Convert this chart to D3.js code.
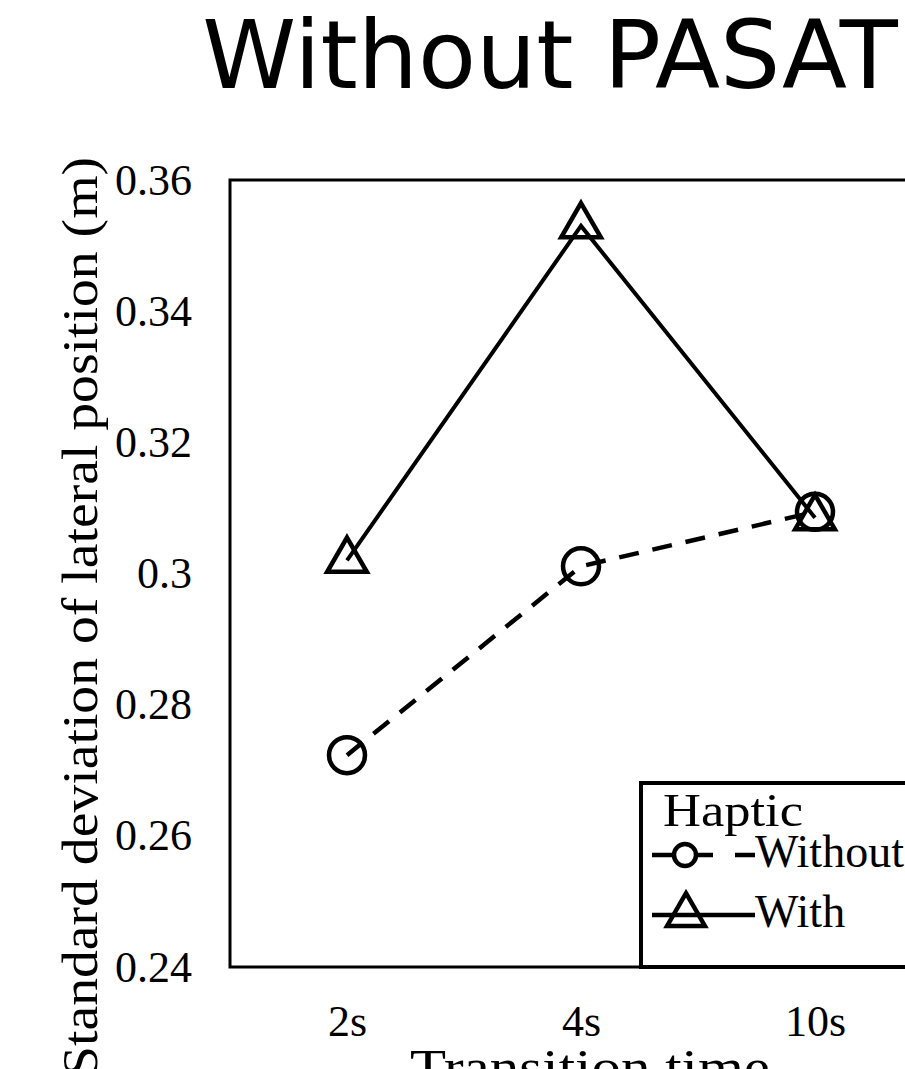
<!DOCTYPE html>
<html>
<head>
<meta charset="utf-8">
<script src="https://cdn.jsdelivr.net/npm/d3@7"></script>
<style>
  body { margin: 0; background: #fff; }
  svg { display: block; }
</style>
</head>
<body>
<div id="chart"></div>
<script>
var width = 905;
var height = 1069;

// data
const categories = ["2s", "4s", "10s"];
const withHaptic = [0.302, 0.353, 0.3085];
const withoutHaptic = [0.2723, 0.3011, 0.3094];
const yTicks = [0.24, 0.26, 0.28, 0.3, 0.32, 0.34, 0.36];
const seriesNames = ["Without", "With"];

var margin = { top: 180, left: 230, bottom: 967, right: 932 };
var serif = "'Liberation Serif', 'DejaVu Serif', serif";

var svg = d3.select("#chart")
  .append("svg")
  .attr("width", width)
  .attr("height", height);

var x = d3.scalePoint()
  .domain(categories)
  .range([margin.left, margin.right])
  .padding(0.5);

var y = d3.scaleLinear()
  .domain([0.24, 0.36])
  .range([margin.bottom, margin.top]);

// title
svg.append("text")
  .attr("x", 550)
  .attr("y", 88)
  .attr("text-anchor", "middle")
  .attr("font-family", "'DejaVu Sans', sans-serif")
  .attr("font-size", 95)
  .text("Without PASAT");

// y axis
var yAxis = d3.axisLeft(y)
  .tickValues(yTicks)
  .tickSize(0)
  .tickPadding(38)
  .tickFormat(d => String(d));

var gy = svg.append("g")
  .attr("transform", "translate(" + margin.left + ",0)")
  .call(yAxis);
gy.select(".domain").remove();
gy.selectAll("text")
  .attr("font-family", serif)
  .attr("font-size", 44)
  .attr("fill", "#000");

// x axis
var xAxis = d3.axisBottom(x)
  .tickSize(0)
  .tickPadding(38);

var gx = svg.append("g")
  .attr("transform", "translate(0," + margin.bottom + ")")
  .call(xAxis);
gx.select(".domain").remove();
gx.selectAll("text")
  .attr("font-family", serif)
  .attr("font-size", 44)
  .attr("fill", "#000");

// axis titles
svg.append("text")
  .attr("transform", "translate(97,157) rotate(-90)")
  .attr("text-anchor", "end")
  .attr("font-family", serif)
  .attr("font-size", 51)
  .attr("textLength", 920)
  .attr("lengthAdjust", "spacingAndGlyphs")
  .text("Standard deviation of lateral position (m)");

svg.append("text")
  .attr("x", 590)
  .attr("y", 1084)
  .attr("text-anchor", "middle")
  .attr("font-family", serif)
  .attr("font-size", 50)
  .attr("textLength", 360)
  .attr("lengthAdjust", "spacingAndGlyphs")
  .text("Transition time");

// plot frame
svg.append("rect")
  .attr("x", margin.left)
  .attr("y", margin.top)
  .attr("width", margin.right - margin.left)
  .attr("height", margin.bottom - margin.top)
  .attr("fill", "none")
  .attr("stroke", "#000")
  .attr("stroke-width", 3);

var line = d3.line()
  .x((d, i) => x(categories[i]))
  .y(d => y(d));

// without haptic: dashed + circles
svg.append("path")
  .datum(withoutHaptic)
  .attr("d", line)
  .attr("fill", "none")
  .attr("stroke", "#000")
  .attr("stroke-width", 4.5)
  .attr("stroke-dasharray", "20,14");

svg.selectAll(".circ")
  .data(withoutHaptic)
  .enter()
  .append("circle")
  .attr("class", "circ")
  .attr("cx", (d, i) => x(categories[i]))
  .attr("cy", d => y(d))
  .attr("r", 18)
  .attr("fill", "none")
  .attr("stroke", "#000")
  .attr("stroke-width", 4.5);

// with haptic: solid + triangles
svg.append("path")
  .datum(withHaptic)
  .attr("d", line)
  .attr("fill", "none")
  .attr("stroke", "#000")
  .attr("stroke-width", 4);

var tri = d3.symbol().type(d3.symbolTriangle).size(680);

svg.selectAll(".tri")
  .data(withHaptic)
  .enter()
  .append("path")
  .attr("class", "tri")
  .attr("d", tri)
  .attr("transform", (d, i) => "translate(" + x(categories[i]) + "," + y(d) + ")")
  .attr("fill", "none")
  .attr("stroke", "#000")
  .attr("stroke-width", 4.5);

// legend
var legend = svg.append("g");
legend.append("rect")
  .attr("x", 641)
  .attr("y", 783)
  .attr("width", 320)
  .attr("height", margin.bottom - 783)
  .attr("fill", "#fff")
  .attr("stroke", "#000")
  .attr("stroke-width", 4);

legend.append("text")
  .attr("x", 663)
  .attr("y", 826)
  .attr("font-family", serif)
  .attr("font-size", 46)
  .attr("textLength", 140)
  .attr("lengthAdjust", "spacingAndGlyphs")
  .text("Haptic");

var rows = legend.selectAll(".row")
  .data(seriesNames)
  .enter()
  .append("g")
  .attr("class", "row")
  .attr("transform", (d, i) => "translate(0," + (855 + i * 60) + ")");

rows.append("line")
  .attr("x1", 652)
  .attr("x2", 755)
  .attr("y1", 0)
  .attr("y2", 0)
  .attr("stroke", "#000")
  .attr("stroke-width", 4.5)
  .attr("stroke-dasharray", d => d === "Without" ? "61,22,40" : null);

rows.filter(d => d === "Without")
  .append("circle")
  .attr("cx", 685)
  .attr("cy", 0)
  .attr("r", 11)
  .attr("fill", "#fff")
  .attr("stroke", "#000")
  .attr("stroke-width", 4.5);

rows.filter(d => d === "With")
  .append("path")
  .attr("d", d3.symbol().type(d3.symbolTriangle).size(620))
  .attr("transform", "translate(686,0)")
  .attr("fill", "none")
  .attr("stroke", "#000")
  .attr("stroke-width", 4.5);

rows.append("text")
  .attr("x", 755)
  .attr("y", 12)
  .attr("font-family", serif)
  .attr("font-size", 46)
  .text(d => d);
</script>
</body>
</html>
